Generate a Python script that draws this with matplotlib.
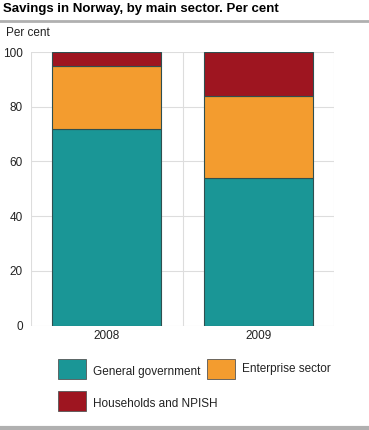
import matplotlib.pyplot as plt
import numpy as np

# DATA
years = ["2008", "2009"]
general_government = [72, 54]
enterprise_sector = [23, 30]
households_npish = [5, 16]
series_names = ["General government", "Enterprise sector", "Households and NPISH"]
colors = ["#1a9696", "#f39c2f", "#9e1520"]

plt.rcParams['font.family'] = ['Liberation Sans', 'DejaVu Sans']

fig = plt.figure(figsize=(3.69, 4.30), dpi=100)
W, H = 369, 430
ax = fig.add_axes([31 / W, 1 - 325.5 / H, 303 / W, 273.5 / H])

x = np.arange(len(years))
bottom = np.zeros(len(years))
bars = []
for vals, col in zip([general_government, enterprise_sector, households_npish], colors):
    b = ax.bar(x, vals, width=0.72, bottom=bottom, color=col,
               edgecolor="#2f4f4f", linewidth=0.8, zorder=3)
    bars.append(b)
    bottom += np.array(vals)

ax.set_xlim(-0.5, 1.5)
ax.set_ylim(0, 100)
ax.set_yticks(range(0, 101, 20))
ax.set_xticks(x)
ax.set_xticklabels(years)
ax.tick_params(length=0, labelsize=8.5, colors="#222222")
ax.tick_params(axis='y', pad=6)
ax.tick_params(axis='x', pad=3)

# grid: horizontal at ticks, vertical at category boundaries
for yv in range(0, 101, 20):
    ax.axhline(yv, color="#dddddd", lw=0.8, zorder=1)
for xv in [-0.5, 0.5, 1.5]:
    ax.axvline(xv, color="#dddddd", lw=0.8, zorder=1)
for s in ax.spines.values():
    s.set_visible(False)

# title and unit label
fig.text(3 / W, 1 - 9 / H, "Savings in Norway, by main sector. Per cent",
         fontsize=9.5, fontweight="bold", va="center", ha="left")
fig.add_artist(plt.Line2D([0, 1], [1 - 21 / H, 1 - 21 / H], color="#b0b0b0", lw=2))
fig.text(6 / W, 1 - 33 / H, "Per cent", fontsize=8.5, va="center", ha="left", color="#222222")
fig.add_artist(plt.Line2D([0, 1], [1 - 428 / H, 1 - 428 / H], color="#b0b0b0", lw=3))

# legend
leg_items = [(58, 359, 0), (207, 359, 1), (58, 391, 2)]
for lx, ly, i in leg_items:
    fig.add_artist(plt.Rectangle((lx / W, 1 - (ly + 20) / H), 28 / W, 20 / H,
                                 facecolor=colors[i], edgecolor="#555555", lw=0.6,
                                 transform=fig.transFigure))
    ty = ly + 13 if i != 1 else ly + 10
    fig.text((lx + 35) / W, 1 - ty / H, series_names[i], fontsize=8.5,
             va="center", ha="left", color="#222222")

fig.savefig("out.png", dpi=100)
